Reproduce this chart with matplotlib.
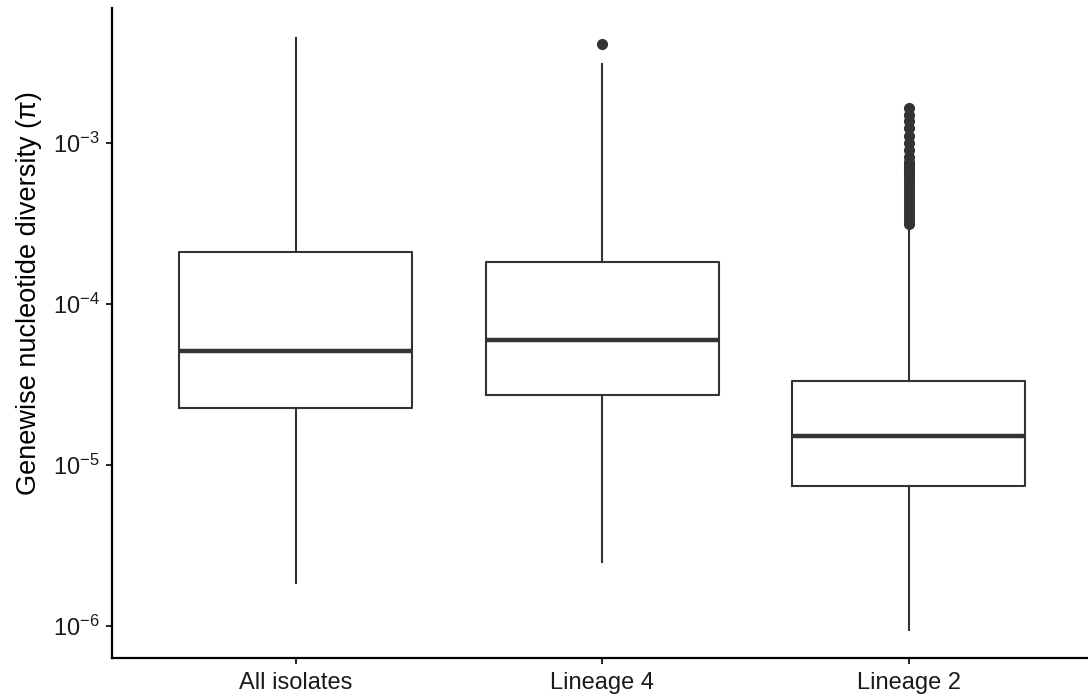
import matplotlib
matplotlib.use("Agg")
import matplotlib.pyplot as plt
from matplotlib.ticker import NullLocator

plt.rcParams['font.family'] = ['Liberation Sans', 'DejaVu Sans']
plt.rcParams['mathtext.fontset'] = 'custom'
plt.rcParams['mathtext.rm'] = 'Liberation Sans'
plt.rcParams['mathtext.it'] = 'Liberation Sans:italic'

groups = ['All isolates', 'Lineage 4', 'Lineage 2']

# five-number summaries per group (whislo, q1, med, q3, whishi)
whislo = [1.85e-6, 2.50e-6, 9.4e-7]
q1 = [2.26e-5, 2.72e-5, 7.41e-6]
med = [5.1e-5, 5.97e-5, 1.51e-5]
q3 = [2.10e-4, 1.82e-4, 3.33e-5]
whishi = [4.49e-3, 3.10e-3, 2.92e-4]

fliers_all = []
fliers_l4 = [4.12e-3]
fliers_l2 = [1.65e-3, 1.49e-3, 1.37e-3, 1.24e-3, 1.10e-3, 1.0e-3, 9.05e-4,
             8.19e-4, 7.62e-4, 7.30e-4, 6.99e-4, 6.70e-4, 6.41e-4, 6.15e-4,
             5.89e-4, 5.56e-4, 5.25e-4, 4.96e-4, 4.69e-4, 4.43e-4, 4.18e-4,
             3.95e-4, 3.73e-4, 3.52e-4, 3.33e-4, 3.14e-4]
fliers = [fliers_all, fliers_l4, fliers_l2]

stats = []
for i, g in enumerate(groups):
    stats.append(dict(label=g, whislo=whislo[i], q1=q1[i], med=med[i],
                      q3=q3[i], whishi=whishi[i], fliers=fliers[i]))

edge = '#333333'
fig = plt.figure(figsize=(10.88, 6.98), dpi=100)
ax = fig.add_axes([112 / 1088, 1 - 658 / 698, 1 - 112 / 1088, (658 - 8) / 698])

ax.bxp(stats, positions=[1, 2, 3], widths=0.76, showcaps=False,
       boxprops=dict(color=edge, linewidth=1.5),
       whiskerprops=dict(color=edge, linewidth=1.5),
       medianprops=dict(color=edge, linewidth=3.2),
       flierprops=dict(marker='o', markerfacecolor=edge, markeredgecolor=edge,
                       markersize=7))

ax.set_yscale('log')
ax.set_ylim(10 ** -6.199, 10 ** -2.161)
ax.set_xlim(0.4, 0.4 + (1088 - 112) / 306.5)
ax.yaxis.set_minor_locator(NullLocator())
ax.set_yticks([1e-6, 1e-5, 1e-4, 1e-3])
ax.set_yticklabels([r'$\mathregular{10^{-6}}$', r'$\mathregular{10^{-5}}$',
                    r'$\mathregular{10^{-4}}$', r'$\mathregular{10^{-3}}$'])
ax.set_xticks([1, 2, 3])
ax.set_xticklabels(groups)

ax.set_ylabel('Genewise nucleotide diversity (π)', fontsize=19.5,
              color='black', va='center')
ax.yaxis.set_label_coords(-0.085, 0.5615)
ax.tick_params(axis='both', labelsize=17, colors='black', length=4, width=1.2,
               labelcolor='#1a1a1a')
ax.tick_params(axis='x', pad=6)
ax.tick_params(axis='y', pad=5)

for s in ['top', 'right']:
    ax.spines[s].set_visible(False)
for s in ['left', 'bottom']:
    ax.spines[s].set_linewidth(1.6)
    ax.spines[s].set_color('black')

fig.savefig('out.png', dpi=100)
